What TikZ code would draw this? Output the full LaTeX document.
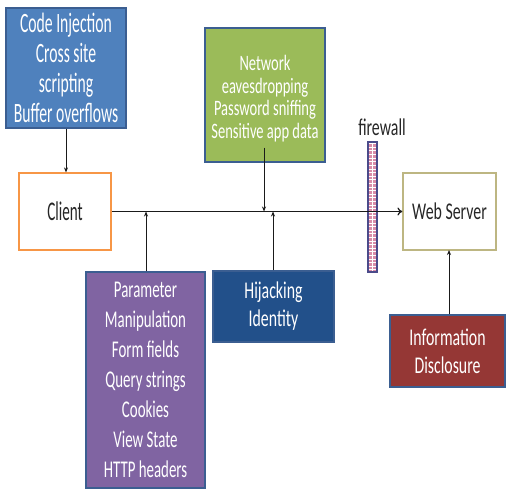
\documentclass[tikz,border=0pt]{standalone}
\usepackage{fontspec}
\setmainfont{Carlito}
\newfontfamily\fS{Carlito}[FakeStretch=0.66]
\newfontfamily\fB{Carlito}[FakeStretch=0.56]
\newfontfamily\fP{Carlito}[FakeStretch=0.62]
\usetikzlibrary{arrows.meta}
\definecolor{cblue}{HTML}{4F81BD}
\definecolor{cgreen}{HTML}{9BBB59}
\definecolor{cpurple}{HTML}{8064A2}
\definecolor{cnavy}{HTML}{22508A}
\definecolor{cred}{HTML}{953735}
\definecolor{cedge}{HTML}{3B5E91}
\definecolor{corange}{HTML}{F79646}
\definecolor{colive}{HTML}{BDB682}
\definecolor{cfw}{HTML}{4A4A8A}
\definecolor{cpink}{HTML}{D98CA8}
\definecolor{cline}{HTML}{1A1A1A}
\begin{document}
\begin{tikzpicture}[x=1pt,y=-1pt,
  attack/.style={draw=cedge,line width=1.3pt,text=white,inner sep=0pt,align=center},
  plain/.style={fill=white,line width=1.2pt,inner sep=0pt,align=center,text=black!85},
  conn/.style={draw=cline,line width=1pt,-{Stealth[length=5pt,width=4pt]}},
  mainconn/.style={draw=cline,line width=1.6pt,-{To[length=5pt,width=8pt,line width=1.2pt]}}]
\useasboundingbox (0,0) rectangle (506,492);
% boxes
\node[attack,fill=cblue,minimum width=120pt,minimum height=120pt,font=\fB\fontsize{28}{30}\selectfont] (inj) at (66,68) {Code Injection\\Cross site\\scripting\\Buffer overflows};
\node[plain,draw=corange,minimum width=92pt,minimum height=77pt,font=\fB\fontsize{27}{30}\selectfont] (client) at (65,211.5) {Client};
\node[attack,fill=cgreen,minimum width=120pt,minimum height=134pt,font=\fS\fontsize{22}{22.5}\selectfont] (net) at (265,95) {\rule{0pt}{10pt}\\[-10pt]Network\\eavesdropping\\Password sniffing\\Sensitive app data};
\node[attack,fill=cpurple,minimum width=119pt,minimum height=216pt,font=\fP\fontsize{24}{30}\selectfont] (param) at (145.5,380) {Parameter\\Manipulation\\Form fields\\Query strings\\Cookies\\View State\\HTTP headers};
\node[attack,fill=cnavy,minimum width=121pt,minimum height=71pt,font=\fS\fontsize{24}{28}\selectfont] (hij) at (273.5,306.5) {Hijacking\\Identity};
\node[plain,draw=colive,minimum width=93pt,minimum height=77pt,font=\fS\fontsize{24}{28}\selectfont] (web) at (449.5,211.5) {Web Server};
\node[attack,fill=cred,minimum width=115pt,minimum height=72pt,font=\fS\fontsize{24}{28}\selectfont] (info) at (447.5,351) {Information\\Disclosure};
% firewall
\node[draw=cfw,fill=cpink,line width=1.2pt,minimum width=9pt,minimum height=130pt,inner sep=0pt] (fw) at (372.5,207) {};
\foreach \k in {0,...,35} {
  \draw[white,line width=0.6pt] (368.6,{143.6+3.6*\k}) -- (376.4,{143.6+3.6*\k});
}
\draw[white,line width=0.5pt] (372.5,142.6) -- (372.5,271.4);
\draw[cfw,line width=1.2pt] (fw.north west) rectangle (fw.south east);
\node[font=\fS\fontsize{24}{28}\selectfont,text=black!85,inner sep=0pt] (fwl) at (382,127) {firewall};
% connectors
\draw[mainconn] (client.east) -- (web.west);
\draw[conn] (inj.south) -- (inj.south |- client.north);
\coordinate (jn) at (264,211.5);
\coordinate (jp) at (146,211.5);
\coordinate (jh) at (273,211.5);
\coordinate (jw) at (449,250);
\draw[conn] ([yshift=15pt]jn |- net.south) -- (jn);
\draw[conn] (jp |- param.north) -- (jp);
\draw[conn] (jh |- hij.north) -- (jh);
\draw[conn] (jw |- info.north) -- (jw);
\end{tikzpicture}
\end{document}
